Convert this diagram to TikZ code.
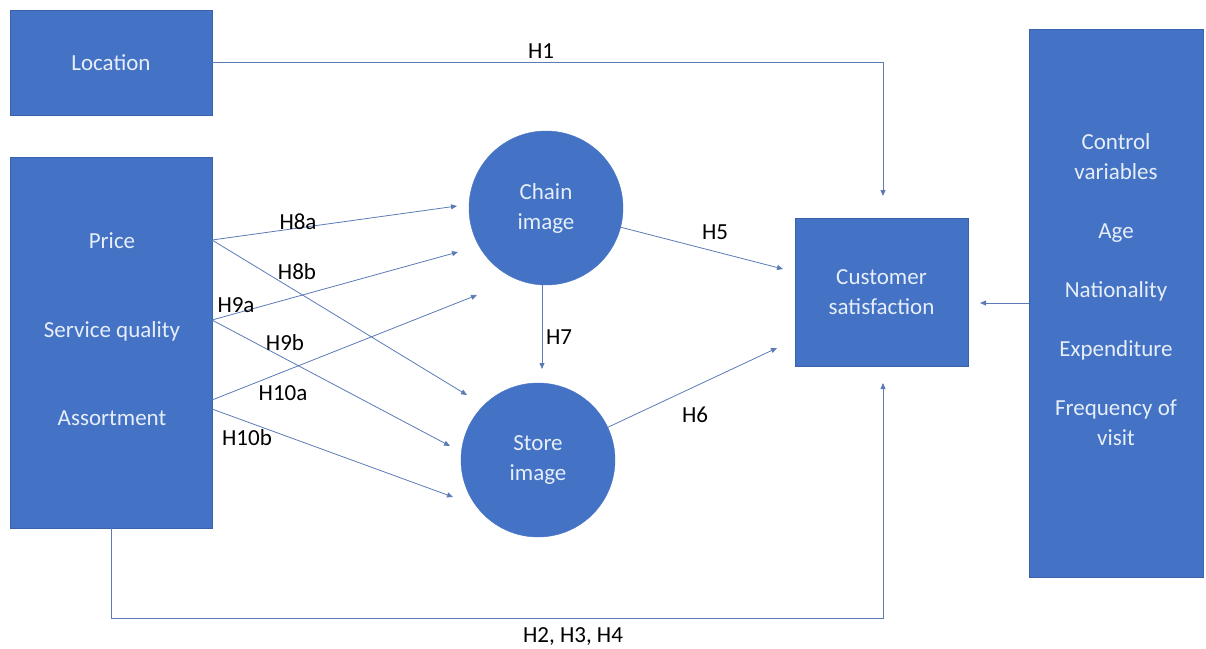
\documentclass[tikz,border=0pt]{standalone}
\usepackage{fontspec}
\setmainfont{Carlito}
\usetikzlibrary{arrows.meta,calc}
\definecolor{boxblue}{HTML}{4472C4}
\definecolor{boxedge}{HTML}{3A62AA}
\definecolor{arr}{HTML}{5B7BB5}
\definecolor{boxtxt}{HTML}{E6EEF9}
\begin{document}
\begin{tikzpicture}[x=1pt,y=-1pt,
  box/.style={rectangle, fill=boxblue, draw=boxedge, line width=0.8pt, inner sep=0pt, text=boxtxt, align=center, font=\fontsize{23}{30}\selectfont},
  circ/.style={circle, fill=boxblue, draw=boxblue, inner sep=0pt, minimum size=154pt, text=boxtxt, align=center, font=\fontsize{23}{30}\selectfont},
  btxt/.style={text=boxtxt, inner sep=0pt, align=center, font=\fontsize{23}{30}\selectfont},
  lbl/.style={text=black, inner sep=1pt, font=\fontsize{23}{28}\selectfont},
  conn/.style={draw=arr, line width=0.8pt, -{Triangle[length=6pt,width=5pt]}}]
\useasboundingbox (0,0) rectangle (1206,648);
% boxes
\node[box, minimum width=202pt, minimum height=105pt] (loc) at (111,62.5) {Location};
\node[box, minimum width=202pt, minimum height=371pt] (drv) at (111,342.5) {};
\node[btxt, anchor=base] (price) at (112,248) {Price};
\node[btxt, anchor=base] (serv) at (112,337) {Service quality};
\node[btxt, anchor=base] (asso) at (112,425) {Assortment};
\node[circ] (chain) at (546,208) {Chain\\image};
\node[circ] (store) at (538,460) {Store\\image};
\node[box, minimum width=173pt, minimum height=148pt] (cs) at (881.5,292) {Customer\\satisfaction};
\node[box, minimum width=174pt, minimum height=548pt] (ctl) at (1116,303) {};
\node[btxt] (ctltxt) at (1116,290) {Control\\variables\\[29pt]Age\\[29pt]Nationality\\[29pt]Expenditure\\[29pt]Frequency of\\visit};
% coordinates
\coordinate (pS) at (212,240);
\coordinate (sS) at (212,320);
\coordinate (aS1) at (212,400);
\coordinate (aS2) at (212,409);
\coordinate (t8a) at (457,206);
\coordinate (t8b) at (467,395);
\coordinate (t9a) at (458,252);
\coordinate (t9b) at (450,446);
\coordinate (t10a) at (477,295);
\coordinate (t10b) at (453,497);
\coordinate (t5) at (783,269);
\coordinate (t6) at (777,348);
\coordinate (t7) at (542,369);
\coordinate (t1) at (883,196);
\coordinate (t2) at (883,383);
\coordinate (tc) at (980,303);
% connectors
\draw[conn] (loc.east) -| (t1);
\draw[conn] (drv.south) -- ++(0,90) -| (t2);
\draw[conn] (pS) -- (t8a);
\draw[conn] (pS) -- (t8b);
\draw[conn] (sS) -- (t9a);
\draw[conn] (sS) -- (t9b);
\draw[conn] (aS1) -- (t10a);
\draw[conn] (aS2) -- (t10b);
\draw[conn] (chain) -- (t5);
\draw[conn] (store) -- (t6);
\draw[conn] (chain.south -| t7) -- (t7);
\draw[conn] (ctl.west) -- (tc);
% labels
\node[lbl] (l1) at (541,51) {H1};
\node[lbl] (l8a) at (298,222) {H8a};
\node[lbl] (l8b) at (297,272) {H8b};
\node[lbl] (l9a) at (236,305) {H9a};
\node[lbl] (l9b) at (285,343) {H9b};
\node[lbl] (l10a) at (283,393) {H10a};
\node[lbl] (l10b) at (247,438) {H10b};
\node[lbl] (l5) at (715,232) {H5};
\node[lbl] (l6) at (695,415) {H6};
\node[lbl] (l7) at (559,337) {H7};
\node[lbl] (l234) at (573,636) {H2, H3, H4};
\end{tikzpicture}
\end{document}
